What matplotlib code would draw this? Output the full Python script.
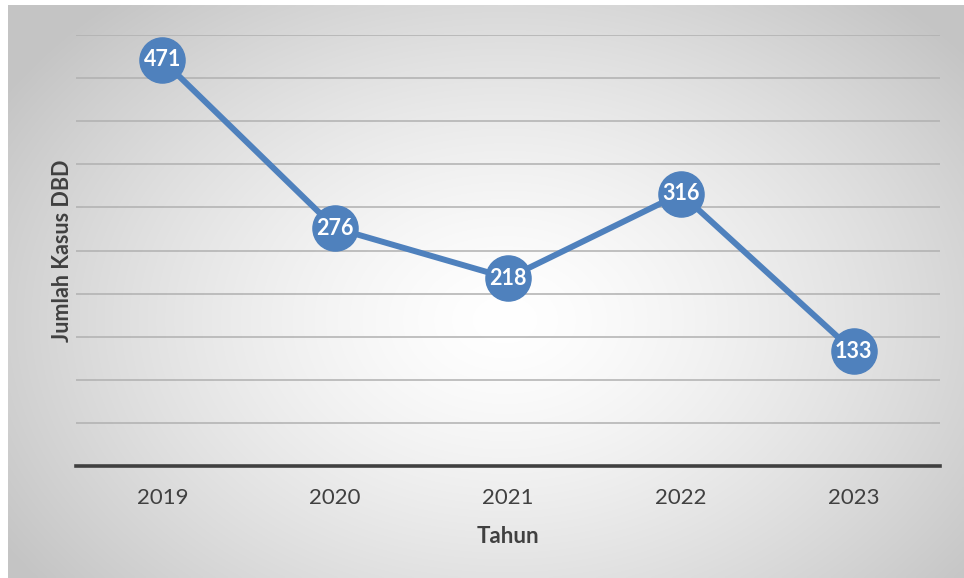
import numpy as np
import matplotlib
matplotlib.use("Agg")
import matplotlib.pyplot as plt

years = ["2019", "2020", "2021", "2022", "2023"]
cases = [471, 276, 218, 316, 133]

plt.rcParams["font.family"] = ["Lato", "DejaVu Sans"]

fig = plt.figure(figsize=(9.64, 5.78), dpi=100)

# radial gradient background, white in the middle, grey towards the edges
bg = fig.add_axes([8 / 964, 0, 956 / 964, 573 / 578], zorder=0)
gx, gy = np.meshgrid(np.linspace(0, 1, 400), np.linspace(0, 1, 240))
dist = np.sqrt(((gx - 0.52) / 0.62) ** 2 + ((gy - 0.55) / 0.75) ** 2)
shade = 1.0 - 0.23 * np.clip(dist, 0, 1.0) ** 1.4
bg.imshow(np.dstack([shade] * 3), aspect="auto", extent=[0, 1, 0, 1],
          interpolation="bilinear")
bg.set_axis_off()

ax = fig.add_axes([76 / 964, 1 - 466 / 578, 864 / 964, 431 / 578], zorder=1)
ax.patch.set_alpha(0)
x = np.arange(len(years))
ax.plot(x, cases, color="#4F81BD", linewidth=4.3, marker="o",
        markersize=32.5, markerfacecolor="#4F81BD", markeredgecolor="#4F81BD",
        zorder=3, solid_capstyle="round")
for xi, val in zip(x, cases):
    ax.text(xi, val, str(val), ha="center", va="center", color="white",
            fontsize=15.5, fontweight="bold", zorder=4)

ax.set_xlim(-0.5, len(years) - 0.5)
ax.set_ylim(0, 500)
ax.set_yticks(np.arange(0, 501, 50))
ax.yaxis.grid(True, color="#b0b0b0", linewidth=1.1)
ax.set_axisbelow(True)
ax.tick_params(axis="y", left=False, labelleft=False)
ax.tick_params(axis="x", bottom=False, labelsize=16, labelcolor="#404040", pad=12)
ax.set_xticks(x)
ax.set_xticklabels(years)
for side in ("top", "right", "left"):
    ax.spines[side].set_visible(False)
ax.spines["bottom"].set_color("#404040")
ax.spines["bottom"].set_linewidth(2.6)
ax.set_xlabel("Tahun", fontsize=16, fontweight="bold", color="#404040", labelpad=13)
ax.set_ylabel("Jumlah Kasus DBD", fontsize=15.5, fontweight="bold", color="#404040",
              labelpad=2)

fig.savefig("out.png", dpi=100, facecolor="white")
